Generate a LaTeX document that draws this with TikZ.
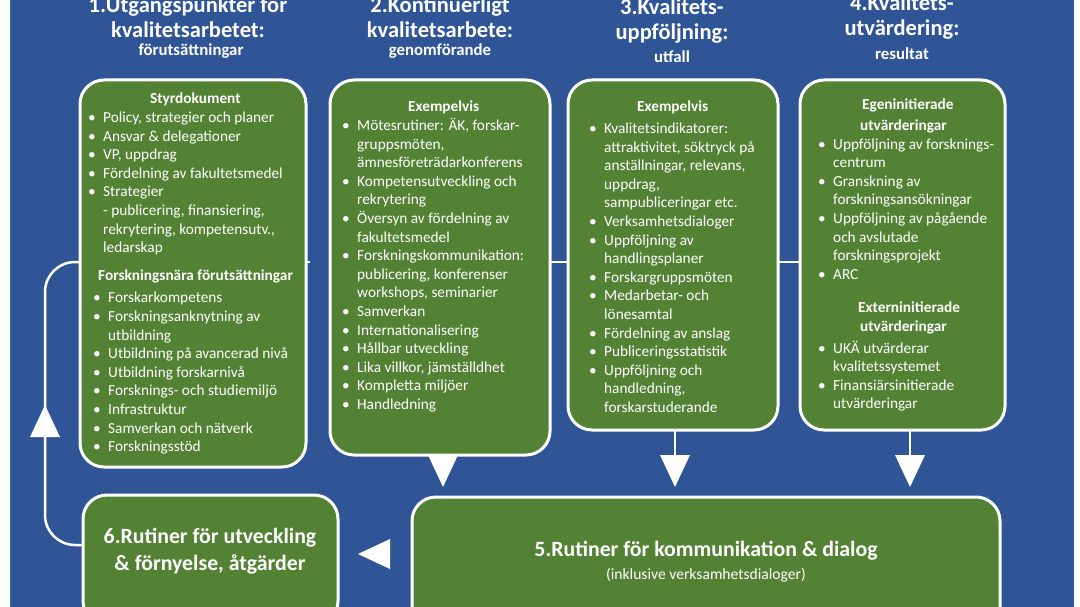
\documentclass[tikz,border=0pt]{standalone}
\usepackage{fontspec}
\setmainfont{Carlito}
\begin{document}
\begin{tikzpicture}[x=1pt,y=-1pt,
  box/.style={draw=white,line width=3pt,fill=grn,rounded corners=24pt},
  txt/.style={text=white,align=left,anchor=north west,inner sep=0pt,font=\fontsize{15.3}{18.6}\selectfont},
  head/.style={text=white,align=center,font=\bfseries\fontsize{22.5}{25}\selectfont},
  sub/.style={text=white,font=\bfseries\fontsize{16.8}{18}\selectfont},
  conn/.style={draw=white,line width=2.5pt},
  tri/.style={fill=white}]
\definecolor{blu}{RGB}{47,85,151}
\definecolor{grn}{RGB}{84,130,53}
\newcommand\bl[1]{\makebox[15pt][l]{\textbullet}#1}
\newcommand\cl[1]{\hspace*{15pt}#1}
\newcommand\bh[1]{\makebox[20pt][l]{\hspace{5pt}\textbullet}#1}
\useasboundingbox (0,0) rectangle (1080,607);
\clip (0,0) rectangle (1080,607);
\fill[white] (0,0) rectangle (1080,607);
\draw[draw=white,line width=4pt,fill=blu,rounded corners=85pt] (8,-100) rectangle (1076,700);
% connectors
\coordinate (l1) at (45,262);
\draw[conn] (80,262) -- (310,262);
\draw[conn] (548,262) -- (570,262);
\draw[conn] (776,262) -- (802,262);
\draw[conn,rounded corners=30pt] (80,262) -- (45,262) -- (45,545) -- (86,545);
\draw[conn] (443,452) -- (443,460);
\draw[conn] (675,428) -- (675,460);
\draw[conn] (910,428) -- (910,460);
% boxes
\node[box,minimum width=226pt,minimum height=387pt] (b1) at (193,273.5) {};
\node[box,minimum width=220pt,minimum height=375pt] (b2) at (440,267.5) {};
\node[box,minimum width=210pt,minimum height=350pt] (b3) at (673,255) {};
\node[box,minimum width=205pt,minimum height=350pt] (b4) at (902.5,255) {};
\node[box,minimum width=255pt,minimum height=130pt] (b6) at (210.5,560) {};
\node[box,minimum width=588pt,minimum height=140pt] (b5) at (706,567) {};
% triangles
\fill[tri] (428,455) -- (458,455) -- (443,487) -- cycle;
\fill[tri] (660,455) -- (690,455) -- (675,487) -- cycle;
\fill[tri] (895,455) -- (925,455) -- (910,487) -- cycle;
\fill[tri] (30,437) -- (60,437) -- (45,405) -- cycle;
\fill[tri] (390,539) -- (390,569) -- (358,554) -- cycle;
% headings
\node[head] (h1) at (188,17) {1.Utgångspunkter för\\kvalitetsarbetet:};
\node[sub] (s1) at (191,51) {förutsättningar};
\node[head] (h2) at (440,17) {2.Kontinuerligt\\kvalitetsarbete:};
\node[sub] (s2) at (440,51) {genomförande};
\node[head] (h3) at (672,21) {3.Kvalitets-\\uppföljning:};
\node[sub] (s3) at (672,57) {utfall};
\node[head] (h4) at (902,17) {4.Kvalitets-\\utvärdering:};
\node[sub] (s4) at (902,54) {resultat};
% texts
\node[txt] (t1) at (88,93) {\hspace*{62pt}\textbf{Styrdokument}\\
\bl{Policy, strategier och planer}\\
\bl{Ansvar \& delegationer}\\
\bl{VP, uppdrag}\\
\bl{Fördelning av fakultetsmedel}\\
\bl{Strategier}\\
\cl{- publicering, finansiering,}\\
\cl{rekrytering, kompetensutv.,}\\
\cl{ledarskap}\\[9pt]
\hspace*{10pt}\textbf{Forskningsnära förutsättningar}\\[4pt]
\bh{Forskarkompetens}\\
\bh{Forskningsanknytning av}\\
\hspace*{20pt}utbildning\\
\bh{Utbildning på avancerad nivå}\\
\bh{Utbildning forskarnivå}\\
\bh{Forsknings- och studiemiljö}\\
\bh{Infrastruktur}\\
\bh{Samverkan och nätverk}\\
\bh{Forskningsstöd}};
\node[txt] (t2) at (342,101) {\hspace*{66pt}\textbf{Exempelvis}\\
\bl{Mötesrutiner: ÄK, forskar-}\\
\cl{gruppsmöten,}\\
\cl{ämnesföreträdarkonferens}\\
\bl{Kompetensutveckling och}\\
\cl{rekrytering}\\
\bl{Översyn av fördelning av}\\
\cl{fakultetsmedel}\\
\bl{Forskningskommunikation:}\\
\cl{publicering, konferenser}\\
\cl{workshops, seminarier}\\
\bl{Samverkan}\\
\bl{Internationalisering}\\
\bl{Hållbar utveckling}\\
\bl{Lika villkor, jämställdhet}\\
\bl{Kompletta miljöer}\\
\bl{Handledning}};
\node[txt] (t3) at (589,101) {\hspace*{48pt}\textbf{Exempelvis}\\[3pt]
\bl{Kvalitetsindikatorer:}\\
\cl{attraktivitet, söktryck på}\\
\cl{anställningar, relevans,}\\
\cl{uppdrag,}\\
\cl{sampubliceringar etc.}\\
\bl{Verksamhetsdialoger}\\
\bl{Uppföljning av}\\
\cl{handlingsplaner}\\
\bl{Forskargruppsmöten}\\
\bl{Medarbetar- och}\\
\cl{lönesamtal}\\
\bl{Fördelning av anslag}\\
\bl{Publiceringsstatistik}\\
\bl{Uppföljning och}\\
\cl{handledning,}\\
\cl{forskarstuderande}};
\node[txt] (t4) at (818,99) {\hspace*{44pt}\textbf{Egeninitierade}\\[2pt]
\hspace*{42pt}\textbf{utvärderingar}\\
\bl{Uppföljning av forsknings-}\\
\cl{centrum}\\
\bl{Granskning av}\\
\cl{forskningsansökningar}\\
\bl{Uppföljning av pågående}\\
\cl{och avslutade}\\
\cl{forskningsprojekt}\\
\bl{ARC}\\[15pt]
\hspace*{40pt}\textbf{Externinitierade}\\
\hspace*{42pt}\textbf{utvärderingar}\\[3pt]
\bl{UKÄ utvärderar}\\
\cl{kvalitetssystemet}\\
\bl{Finansiärsinitierade}\\
\cl{utvärderingar}};
\node[text=white,align=center,font=\bfseries\fontsize{21.8}{27}\selectfont] (t6) at (210,551) {6.Rutiner för utveckling\\ \& förnyelse, åtgärder};
\node[text=white,font=\bfseries\fontsize{21.8}{24}\selectfont] (t5) at (706,551) {5.Rutiner för kommunikation \& dialog};
\node[text=white,font=\fontsize{15.6}{17}\selectfont] (t5b) at (706,575) {(inklusive verksamhetsdialoger)};
\end{tikzpicture}
\end{document}
